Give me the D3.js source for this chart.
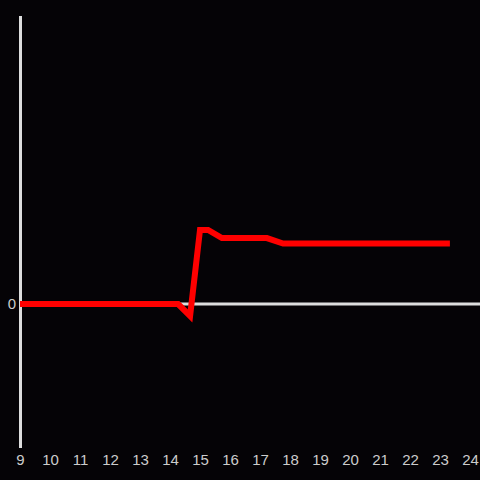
<!DOCTYPE html>
<html><head><meta charset="utf-8">
<script src="https://cdn.jsdelivr.net/npm/d3@7"></script>
<style>html,body{margin:0;padding:0;background:#050306;}</style>
</head><body>
<svg id="c" width="480" height="480"></svg>
<script>
const hours = [9, 14.27, 14.67, 15.0, 15.27, 15.73, 17.23, 17.77, 23.33];
const values = [0, 0, -0.083, 0.514, 0.514, 0.458, 0.458, 0.42, 0.42];
const xTicks = [9,10,11,12,13,14,15,16,17,18,19,20,21,22,23,24];
const yTicks = [0];

const svg = d3.select('#c');
svg.append('rect').attr('width',480).attr('height',480).attr('fill','#050306');
const x = d3.scaleLinear().domain([9,24]).range([20,470]);
const y = d3.scaleLinear().domain([-1,2]).range([448,16]);

// y axis line
svg.append('line').attr('x1',x(9)+0.5).attr('x2',x(9)+0.5).attr('y1',y(2)).attr('y2',y(-1))
  .attr('stroke','#dddddd').attr('stroke-width',3);
// zero line
svg.append('line').attr('x1',x(9)).attr('x2',480).attr('y1',y(0)).attr('y2',y(0))
  .attr('stroke','#dddddd').attr('stroke-width',3);

const xa = svg.append('g').attr('transform',`translate(0,${y(-1)})`)
  .call(d3.axisBottom(x).tickValues(xTicks).tickSize(0).tickPadding(6).tickFormat(d3.format('d')));
xa.select('.domain').remove();
xa.selectAll('text').attr('fill','#cccccc').style('font-family','Liberation Sans, Arial, sans-serif').style('font-size','15px');

const ya = svg.append('g').attr('transform',`translate(${x(9)},0)`)
  .call(d3.axisLeft(y).tickValues(yTicks).tickSize(0).tickPadding(4).tickFormat(d3.format('d')));
ya.select('.domain').remove();
ya.selectAll('text').attr('fill','#cccccc').style('font-family','Liberation Sans, Arial, sans-serif').style('font-size','15px');

const data = hours.map((h,i)=>[h, values[i]]);
svg.append('path').datum(data)
  .attr('d', d3.line().x(d=>x(d[0])).y(d=>y(d[1])))
  .attr('fill','none').attr('stroke','#ff0000').attr('stroke-width',6)
  .attr('stroke-linejoin','miter').attr('stroke-linecap','butt');
</script>
</body></html>
